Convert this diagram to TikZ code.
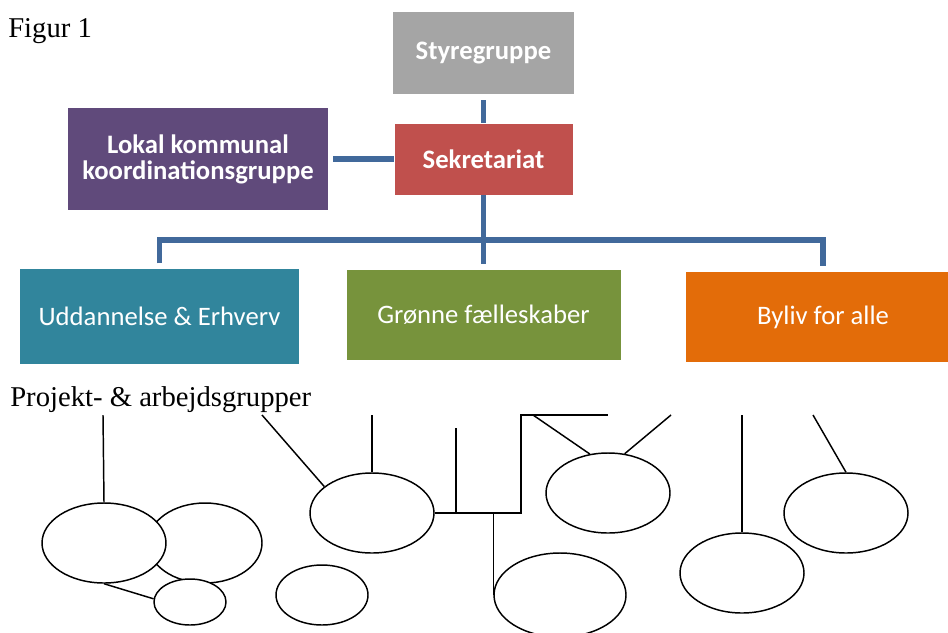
\documentclass[tikz,border=0pt]{standalone}
\usepackage{fontspec}
\setmainfont{Liberation Serif}
\newfontfamily\calibri{Carlito}
\usepackage{tikz}
\usetikzlibrary{shapes.geometric}

\definecolor{styregray}{HTML}{A5A5A5}
\definecolor{sekred}{HTML}{C0504D}
\definecolor{lokalpurple}{HTML}{604A7B}
\definecolor{uddteal}{HTML}{31859C}
\definecolor{gronnegreen}{HTML}{77933C}
\definecolor{bylivorange}{HTML}{E36C09}
\definecolor{linkblue}{HTML}{41699B}

\begin{document}
\begin{tikzpicture}[x=0.75pt,y=-0.75pt]
  \tikzset{orgbox/.style = {shape=rectangle,inner sep=0pt,text=white,align=center,font=\calibri\fontsize{20}{19.5}\selectfont}}
  \tikzset{boldbox/.style = {orgbox,font=\calibri\bfseries\fontsize{20}{19.5}\selectfont}}
  \tikzset{link/.style = {draw=linkblue,line width=4pt}}
  \tikzset{grp/.style = {shape=ellipse,draw,line width=1.1pt,fill=white,inner sep=0pt}}
  \tikzset{wire/.style = {draw,line width=1.1pt}}

  \useasboundingbox (0,0) rectangle (948,632);

	\node[anchor=base west,inner sep=0pt,font=\fontsize{21.5}{24}\selectfont] (fig) at (8,37) {Figur 1};

	\node[boldbox,fill=styregray,minimum width=135.75pt,minimum height=61.5pt] (styre) at (483.5,53) {Styregruppe};
	\node[boldbox,fill=sekred,minimum width=133.5pt,minimum height=53.25pt] (sekr) at (483.5,159) {Sekretariat};
	\node[boldbox,fill=lokalpurple,minimum width=195pt,minimum height=76.5pt] (lokal) at (198,159) {Lokal kommunal\\koordinationsgruppe};

	\node[orgbox,fill=uddteal,minimum width=209.25pt,minimum height=71.25pt] (udd) at (159.5,316.5) {Uddannelse \& Erhverv};
	\node[orgbox,fill=gronnegreen,minimum width=205.5pt,minimum height=67.5pt] (gron) at (483.5,315) {Grønne fælleskaber};
	\node[orgbox,fill=bylivorange,minimum width=205.5pt,minimum height=67.5pt] (byliv) at (823,317) {Byliv for alle};

	\coordinate (bus) at (483.5,240);
	\draw[link,shorten <=4.5pt] (styre) -- (sekr);
	\draw[link,shorten <=3.75pt] (lokal) -- (sekr);
	\draw[link,shorten >=4pt] (sekr) -- (gron);
	\draw[link,shorten <=4pt,shorten >=4pt] (udd.north) |- (bus) -| (byliv.north);

	\node[anchor=base west,inner sep=0pt,font=\fontsize{21.5}{24}\selectfont] (proj) at (10,406) {Projekt- \& arbejdsgrupper};

	% grupper
	\node[grp,minimum width=85.5pt,minimum height=60pt] (gB) at (205,543) {};
	\node[grp,minimum width=93pt,minimum height=60pt] (gA) at (104,543) {};
	\node[grp,minimum width=54pt,minimum height=34.5pt] (gC) at (190,602) {};
	\node[grp,minimum width=93pt,minimum height=60pt] (gD) at (372,513) {};
	\node[grp,minimum width=69pt,minimum height=45pt] (gE) at (322,595) {};
	\node[grp,minimum width=93pt,minimum height=60pt] (gF) at (608,493) {};
	\node[grp,minimum width=99pt,minimum height=63pt] (gG) at (560,595) {};
	\node[grp,minimum width=93pt,minimum height=60pt] (gH) at (742,573) {};
	\node[grp,minimum width=93pt,minimum height=60pt] (gI) at (846,513) {};

	\coordinate (tA) at (103,415);
	\coordinate (tD1) at (262,415);
	\coordinate (tD2) at (372,415);
	\coordinate (tM) at (456,428);
	\coordinate (kU) at (521,415);
	\coordinate (kR) at (608,415);
	\coordinate (tF1) at (533,415);
	\coordinate (tF2) at (671,415);
	\coordinate (tH) at (742,415);
	\coordinate (tI) at (813,415);

	\draw[wire] (tA) -- (gA.north);
	\draw[wire] (gA.south) -- (gC.175);
	\draw[wire] (tD1) -- (gD.151);
	\draw[wire] (tD2) -- (gD.north);
	\draw[wire] (gD.east) -| (kU) -- (kR);
	\draw[wire] (tM) -- (tM |- gD.east);
	\draw[wire] (gG.west |- gD.east) -- (gG.west);
	\draw[wire] (tF1) -- (gF.115);
	\draw[wire] (tF2) -- (gF.67);
	\draw[wire] (tH) -- (gH.north);
	\draw[wire] (tI) -- (gI.north);

\end{tikzpicture}
\end{document}
